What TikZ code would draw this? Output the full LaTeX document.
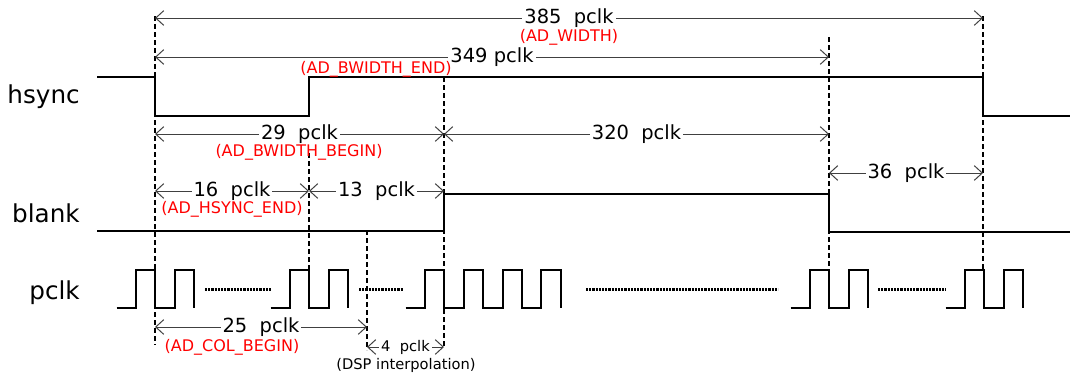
\documentclass[tikz,border=0pt]{standalone}
\usepackage{fontspec}
\setmainfont{DejaVu Sans}
\usetikzlibrary{arrows.meta}

\tikzset{
  wave/.style={line width=1.6pt},
  guide/.style={line width=1pt, dash pattern=on 3.8pt off 2.2pt},
  dimline/.style={line width=0.75pt, black!75,
    {Straight Barb[length=6pt,width=11pt]}-{Straight Barb[length=6pt,width=11pt]}},
  dimtext/.style={fill=white, text=black, inner sep=1.5pt, font=\fontsize{14.6}{16}\selectfont},
  dimsmall/.style={dimtext, font=\fontsize{11}{12}\selectfont},
  regname/.style={text=red, inner sep=0pt, font=\fontsize{12}{13}\selectfont},
  noteline/.style={inner sep=0pt, font=\fontsize{11}{12}\selectfont},
  signame/.style={anchor=east, inner sep=0pt, font=\fontsize{18.5}{20}\selectfont},
  clkdots/.style={line width=2.4pt, dash pattern=on 1.6pt off 0.8pt},
}

\begin{document}
\begin{tikzpicture}[x=0.75pt, y=-0.75pt]
\useasboundingbox (0,0) rectangle (1073,379);

%Signal names
\node[signame] (hsync) at (80,97) {hsync};
\node[signame] (blank) at (80,213) {blank};
\node[signame] (pclk) at (80,293) {pclk};

%Waveforms
\draw[wave] (97,77) -- (155,77) -- (155,116) -- (309,116) -- (309,77) -- (983,77) -- (983,116) -- (1070,116);
\draw[wave] (97,231) -- (444,231) -- (444,194) -- (829,194) -- (829,232) -- (1070,232);
\foreach \s/\n in {116.6/2, 270.6/2, 405.6/4, 790.6/2, 945.6/2}
  \draw[wave] (\s,308) \foreach \k in {1,...,\n}{ -- ++(19.4,0) -- ++(0,-38) -- ++(19.4,0) -- ++(0,38) };
\foreach \a/\b in {205/272, 359/403, 586/778, 878/946}
  \draw[clkdots] (\a,289.5) -- (\b,289.5);

%Timing marks
\foreach \nm/\x/\ya/\yb in {sync/155/16/345, hsEnd/309/153/270, colBegin/367/230/350,
    actBegin/444/77/347, actEnd/829/37/270, lineEnd/983/16/270} {
  \coordinate (\nm T) at (\x,\ya);
  \coordinate (\nm B) at (\x,\yb);
  \draw[guide] (\nm T) -- (\nm B);
}

%Arrow levels
\coordinate (L385) at (0,18);
\coordinate (L349) at (0,57);
\coordinate (L29) at (0,134);
\coordinate (L36) at (0,173);
\coordinate (L16) at (0,191);
\coordinate (L25) at (0,327);
\coordinate (L4) at (0,347);

\draw[dimline] (syncT |- L385) -- node[dimtext] (w385) {385\ \ pclk} (lineEndT |- L385);
\draw[dimline] (syncT |- L349) -- node[dimtext] (w349) {349 pclk} (actEndT |- L349);
\draw[dimline] (syncT |- L29) -- node[dimtext] (w29) {29\ \ pclk} (actBeginT |- L29);
\draw[dimline] (actBeginT |- L29) -- node[dimtext] (w320) {320\ \ pclk} (actEndT |- L29);
\draw[dimline] (syncT |- L16) -- node[dimtext] (w16) {16\ \ pclk} (hsEndT |- L16);
\draw[dimline] (hsEndT |- L16) -- node[dimtext] (w13) {13\ \ pclk} (actBeginT |- L16);
\draw[dimline] (actEndT |- L36) -- node[dimtext] (w36) {36\ \ pclk} (lineEndT |- L36);
\draw[dimline] (syncT |- L25) -- node[dimtext] (w25) {25\ \ pclk} (colBeginT |- L25);
\draw[dimline] (colBeginT |- L4) -- node[dimsmall] (w4) {4\ \ pclk} (actBeginT |- L4);

%Register names
\node[regname] (adWidth) at (569,37) {(AD\_WIDTH)};
\node[regname] (adBwEnd) at (376,69) {(AD\_BWIDTH\_END)};
\node[regname] (adBwBegin) at (299,152.5) {(AD\_BWIDTH\_BEGIN)};
\node[regname] (adHsEnd) at (232,209.5) {(AD\_HSYNC\_END)};
\node[regname] (adColBegin) at (232,347.5) {(AD\_COL\_BEGIN)};
\node[noteline] (dsp) at (406,365) {(DSP interpolation)};

\end{tikzpicture}
\end{document}
